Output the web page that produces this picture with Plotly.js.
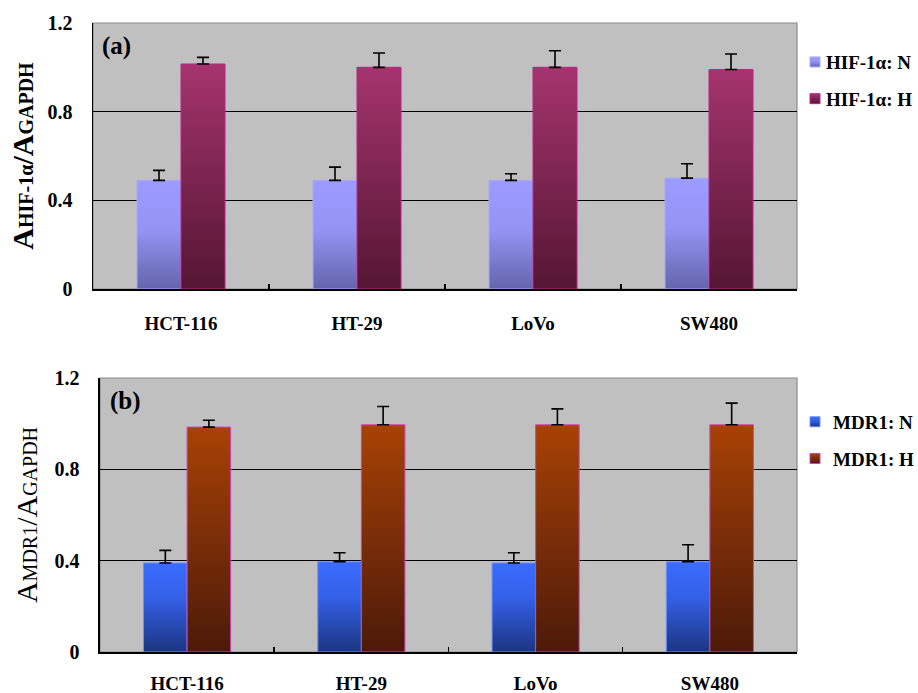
<!DOCTYPE html>
<html>
<head>
<meta charset="utf-8">
<script src="https://cdn.plot.ly/plotly-3.0.1.min.js"></script>
<style>
html,body{margin:0;padding:0;background:#fff;}
#chart{width:918px;height:693px;}
</style>
</head>
<body>
<svg width="0" height="0" style="position:absolute">
  <defs>
    <linearGradient id="gA_N" x1="0" y1="0" x2="0" y2="1">
      <stop offset="0" stop-color="#9c9cff"/>
      <stop offset="0.45" stop-color="#9494f4"/>
      <stop offset="1" stop-color="#6464ac"/>
    </linearGradient>
    <linearGradient id="gA_H" x1="0" y1="0" x2="0" y2="1">
      <stop offset="0" stop-color="#a6346e"/>
      <stop offset="0.5" stop-color="#7c2550"/>
      <stop offset="1" stop-color="#551633"/>
    </linearGradient>
    <linearGradient id="gB_N" x1="0" y1="0" x2="0" y2="1">
      <stop offset="0" stop-color="#3b6cff"/>
      <stop offset="0.4" stop-color="#3360e6"/>
      <stop offset="1" stop-color="#1c3580"/>
    </linearGradient>
    <linearGradient id="gB_H" x1="0" y1="0" x2="0" y2="1">
      <stop offset="0" stop-color="#a84204"/>
      <stop offset="0.5" stop-color="#7a2e08"/>
      <stop offset="1" stop-color="#4c1a08"/>
    </linearGradient>
  </defs>
</svg>
<div id="chart"></div>
<script>
// ---- data ----
const categories = ["HCT-116", "HT-29", "LoVo", "SW480"];

const hifNormoxia = [0.49, 0.49, 0.49, 0.50];
const hifNormoxiaErr = [0.045, 0.06, 0.03, 0.065];
const hifHypoxia = [1.015, 1.0, 1.0, 0.99];
const hifHypoxiaErr = [0.03, 0.065, 0.075, 0.07];

const mdrNormoxia = [0.39, 0.395, 0.39, 0.395];
const mdrNormoxiaErr = [0.055, 0.04, 0.045, 0.075];
const mdrHypoxia = [0.985, 0.995, 0.995, 0.995];
const mdrHypoxiaErr = [0.03, 0.08, 0.07, 0.095];

const legendNames = ["HIF-1α: N", "HIF-1α: H", "MDR1: N", "MDR1: H"];
const yTicks = [0, 0.4, 0.8, 1.2];
const yTickText = ["0", "0.4", "0.8", "1.2"];

const serif = "Liberation Serif";

function errUp(arr) {
  return {type: "data", array: arr, symmetric: false, arrayminus: arr.map(() => 0),
          color: "#000", thickness: 1.6, width: 6};
}

const traces = [
  {type: "bar", x: categories, y: hifNormoxia, name: legendNames[0], xaxis: "x", yaxis: "y",
   legend: "legend", legendgroup: "a1",
   marker: {color: "#9494f4", line: {color: "#a8a8ff", width: 1}}, error_y: errUp(hifNormoxiaErr)},
  {type: "bar", x: categories, y: hifHypoxia, name: legendNames[1], xaxis: "x", yaxis: "y",
   legend: "legend", legendgroup: "a2",
   marker: {color: "#7c2550", line: {color: "#c0208a", width: 1}}, error_y: errUp(hifHypoxiaErr)},
  {type: "bar", x: categories, y: mdrNormoxia, name: legendNames[2], xaxis: "x2", yaxis: "y2",
   legend: "legend2", legendgroup: "b1",
   marker: {color: "#3360e6", line: {color: "#6f8fff", width: 1}}, error_y: errUp(mdrNormoxiaErr)},
  {type: "bar", x: categories, y: mdrHypoxia, name: legendNames[3], xaxis: "x2", yaxis: "y2",
   legend: "legend2", legendgroup: "b2",
   marker: {color: "#7a2e08", line: {color: "#d040c0", width: 1}}, error_y: errUp(mdrHypoxiaErr)}
];

const gradIds = ["gA_N", "gA_H", "gB_N", "gB_H"];

function xAxis(domain, anchor, standoff) {
  return {
    domain: domain, anchor: anchor, type: "category",
    showline: true, linecolor: "#000", linewidth: 1.5,
    ticks: "inside", tickson: "boundaries", ticklen: 5, tickcolor: "#000", tickwidth: 1.5,
    showgrid: false, zeroline: false,
    tickfont: {family: serif, size: 19, color: "#000", weight: "bold"},
    ticklabelstandoff: standoff, fixedrange: true
  };
}
function yAxis(domain, anchor, title, bold, standoff) {
  return {
    domain: domain, anchor: anchor, range: [0, 1.2],
    tickvals: yTicks, ticktext: yTickText,
    showline: true, linecolor: "#000", linewidth: 1.5,
    ticks: "", showgrid: true, gridcolor: "#000", gridwidth: 1.5,
    zeroline: false,
    tickfont: {family: serif, size: 20, color: "#000", weight: "bold"},
    ticklabelstandoff: 15,
    title: {text: title, standoff: standoff,
            font: {family: serif, size: 30, color: "#000", weight: bold ? "bold" : "normal"}},
    fixedrange: true
  };
}

const titleA = 'A<span style="font-size:20px">HIF-1α</span>/A<span style="font-size:20px">GAPDH</span>';
const titleB = 'A<span style="font-size:20px">MDR1</span>/A<span style="font-size:20px">GAPDH</span>';

const yDomA = [0.5771, 1];
const yDomB = [0, 0.4356];

// legends are laid out inside the plot (so they do not shrink it) and then moved to the right margin
const legendLeftPx = 793;

const layout = {
  width: 918, height: 693,
  margin: {l: 93, r: 121, t: 23, b: 41},
  paper_bgcolor: "#ffffff",
  plot_bgcolor: "rgba(0,0,0,0)",
  barmode: "group", bargap: 0.5, bargroupgap: 0,
  showlegend: true,
  xaxis: xAxis([0, 1], "y", 17),
  yaxis: yAxis(yDomA, "x", titleA, true, 5),
  xaxis2: xAxis([0.0099, 1], "y2", 14),
  yaxis2: yAxis(yDomB, "x2", titleB, false, 8),
  legend: {x: 0.6, xanchor: "left", y: 0.968, yanchor: "top",
           xref: "paper", yref: "paper",
           font: {family: serif, size: 19, color: "#000", weight: "bold"},
           traceorder: "grouped", tracegroupgap: 9, itemwidth: 30,
           bgcolor: "rgba(0,0,0,0)"},
  legend2: {x: 0.6, xanchor: "left", y: 0.396, yanchor: "top",
            xref: "paper", yref: "paper",
            font: {family: serif, size: 19, color: "#000", weight: "bold"},
            traceorder: "grouped", tracegroupgap: 9, itemwidth: 30,
            bgcolor: "rgba(0,0,0,0)"},
  shapes: [
    {type: "rect", xref: "x domain", yref: "y domain", x0: 0, x1: 1, y0: 0, y1: 1,
     fillcolor: "#c0c0c0", line: {color: "#8a8a8a", width: 1.2}, layer: "below"},
    {type: "rect", xref: "x2 domain", yref: "y2 domain", x0: 0, x1: 1, y0: 0, y1: 1,
     fillcolor: "#c0c0c0", line: {color: "#8a8a8a", width: 1.2}, layer: "below"}
  ],
  annotations: [
    {text: "(a)", xref: "x domain", yref: "y domain", x: 0.01, y: 0.975, xanchor: "left", yanchor: "top",
     showarrow: false, font: {family: serif, size: 25, color: "#000", weight: "bold"}},
    {text: "(b)", xref: "x2 domain", yref: "y2 domain", x: 0.012, y: 0.975, xanchor: "left", yanchor: "top",
     showarrow: false, font: {family: serif, size: 25, color: "#000", weight: "bold"}}
  ]
};

function applyGradients() {
  document.querySelectorAll("g.trace.bars").forEach(g => {
    const cd = g.__data__;
    const tr = cd && cd[0] && cd[0].trace;
    if (!tr) return;
    const id = gradIds[tr.index];
    g.querySelectorAll("g.point path").forEach(p => { p.style.fill = "url(#" + id + ")"; });
  });
  document.querySelectorAll("g.traces").forEach(g => {
    const d = g.__data__;
    const tr = d && d[0] && d[0].trace;
    if (!tr) return;
    const id = gradIds[tr.index];
    g.querySelectorAll("g.legendpoints path").forEach(p => {
      p.style.fill = "url(#" + id + ")";
      p.setAttribute("d", "M5,5H-5V-5H5Z");
      p.setAttribute("transform", "translate(22,0)");
    });
    g.querySelectorAll("text.legendtext").forEach(t => {
      const x0 = parseFloat(t.getAttribute("x")) || 0;
      t.setAttribute("x", x0 - 7);
      t.querySelectorAll("tspan[x]").forEach(s => {
        const sx = parseFloat(s.getAttribute("x")) || 0;
        s.setAttribute("x", sx - 7);
      });
    });
  });
  document.querySelectorAll("g.infolayer > g").forEach(g => {
    const cls = g.getAttribute("class") || "";
    if (!/^legend\d*$/.test(cls)) return;
    const tf = g.getAttribute("transform") || "";
    const m = tf.match(/translate\(\s*([-\d.]+)[ ,]+([-\d.]+)\s*\)/);
    if (m) g.setAttribute("transform", "translate(" + legendLeftPx + "," + m[2] + ")");
  });
}

Plotly.newPlot("chart", traces, layout, {displayModeBar: false, staticPlot: true}).then(applyGradients);
</script>
</body>
</html>
